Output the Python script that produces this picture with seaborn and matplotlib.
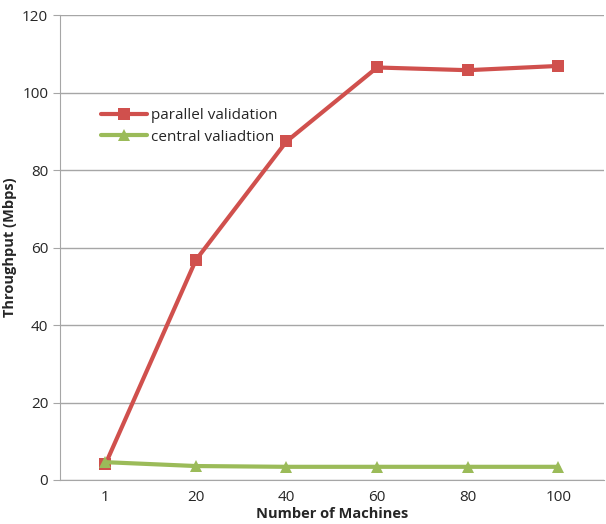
import matplotlib
matplotlib.use('Agg')
import matplotlib.pyplot as plt
import seaborn as sns
import pandas as pd

machines = ['1', '20', '40', '60', '80', '100']
parallel = [4.0, 56.8, 87.4, 106.5, 105.8, 106.9]
central = [4.6, 3.6, 3.4, 3.4, 3.4, 3.4]

sns.set_style('white')
plt.rcParams['font.family'] = ['Open Sans', 'DejaVu Sans']

df = pd.DataFrame({
    'machines': machines * 2,
    'throughput': parallel + central,
    'series': ['parallel validation'] * 6 + ['central valiadtion'] * 6,
})

fig = plt.figure(figsize=(6.06, 5.24), dpi=100)
ax = fig.add_axes([0.099, 0.084, 0.897, 0.887])

sns.lineplot(data=df, x='machines', y='throughput', hue='series',
             style='series', markers=['s', '^'], dashes=False,
             palette=['#d0504d', '#9bbb59'], linewidth=3, markersize=9,
             markeredgewidth=0, ax=ax, sort=False)

ax.set_ylim(0, 120)
ax.set_xlim(-0.5, 5.5)
ax.set_yticks(range(0, 121, 20))
ax.yaxis.grid(True, color='#a6a6a6', linewidth=1)
for side in ['top', 'right']:
    ax.spines[side].set_visible(False)
for side in ['left', 'bottom']:
    ax.spines[side].set_color('#a6a6a6')
ax.tick_params(axis='y', length=5, color='#a6a6a6', labelsize=11, left=True)
ax.tick_params(axis='x', length=0, labelsize=11, pad=7)
ax.set_xlabel('Number of Machines', fontsize=10.5, fontweight='bold',
              labelpad=2)
ax.set_ylabel('Throughput (Mbps)', fontsize=10.5, fontweight='bold')

ax.legend(loc='upper left', bbox_to_anchor=(0.05, 0.83), frameon=False,
          fontsize=11, handlelength=3, handletextpad=0.3, labelspacing=0.45,
          title=None)

fig.savefig('out.png', dpi=100)
